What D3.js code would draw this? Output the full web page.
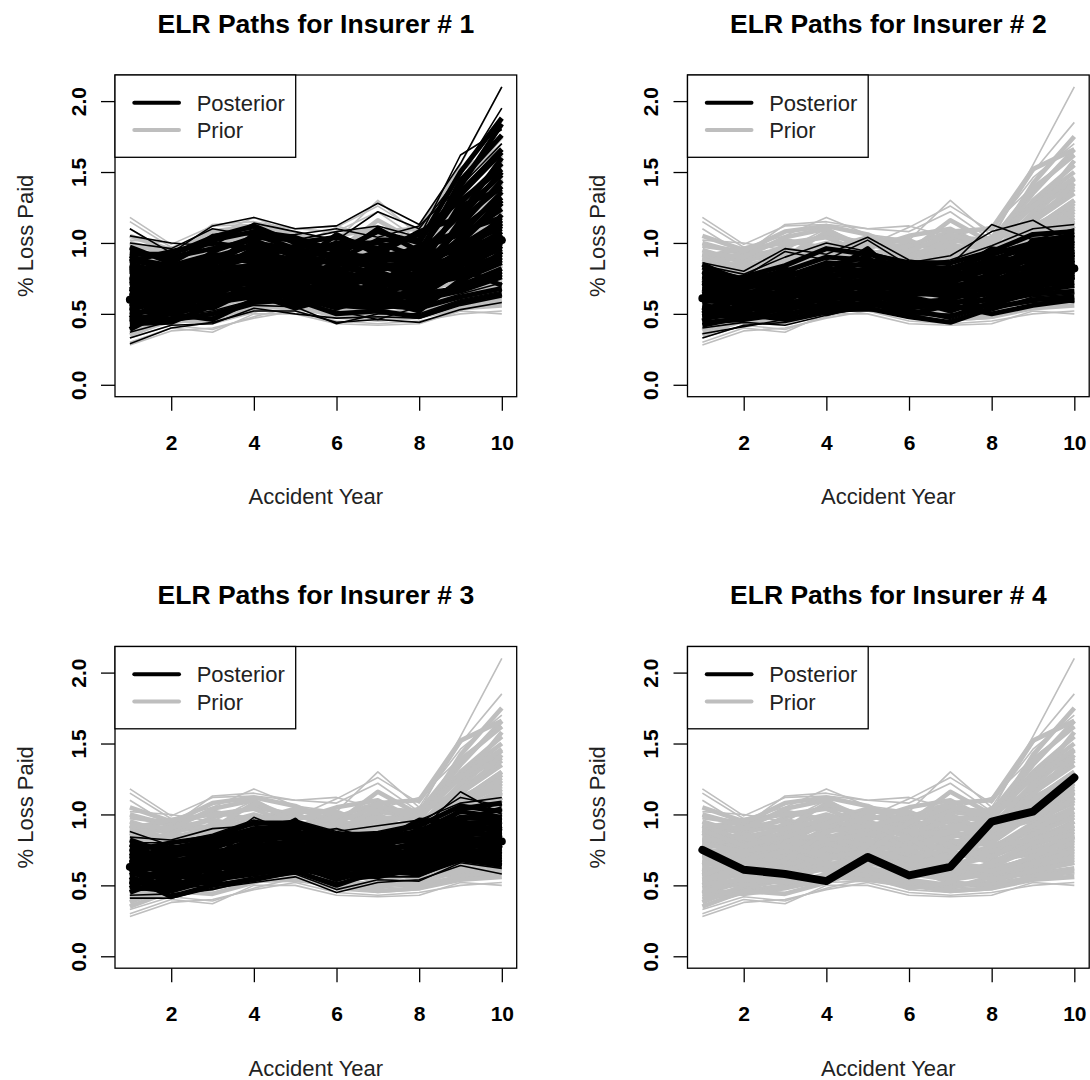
<!DOCTYPE html>
<html>
<head>
<meta charset="utf-8">
<script src="https://cdn.jsdelivr.net/npm/d3@7"></script>
<style>
  body { margin: 0; background: #fff; }
  svg { display: block; font-family: "Liberation Sans", Arial, sans-serif; }
</style>
</head>
<body>
<script>
// accident years on the x axis
var years = [1, 2, 3, 4, 5, 6, 7, 8, 9, 10];
var xTicks = [2, 4, 6, 8, 10];
var yTicks = [0, 0.5, 1, 1.5, 2];
var yTickLabels = ["0.0", "0.5", "1.0", "1.5", "2.0"];
var panelTitles = ["ELR Paths for Insurer # 1", "ELR Paths for Insurer # 2",
                   "ELR Paths for Insurer # 3", "ELR Paths for Insurer # 4"];
var legendLabels = ["Posterior", "Prior"];

// prior ELR paths (same draws in every panel), outer ones first
var priorPaths = [
  [1.18, 0.99, 1.12, 1.13, 1.10, 1.12, 1.04, 1.12, 1.40, 1.62],
  [1.15, 0.97, 1.05, 1.18, 1.06, 1.02, 1.30, 1.05, 1.50, 1.85],
  [1.10, 0.92, 1.13, 1.15, 1.10, 1.08, 1.22, 1.02, 1.55, 2.10],
  [1.02, 1.00, 0.95, 1.10, 0.98, 1.11, 1.26, 1.08, 1.46, 1.70],
  [0.28, 0.38, 0.40, 0.47, 0.52, 0.45, 0.43, 0.45, 0.50, 0.52],
  [0.30, 0.40, 0.37, 0.50, 0.50, 0.43, 0.42, 0.43, 0.52, 0.50],
  [0.33, 0.42, 0.39, 0.48, 0.55, 0.47, 0.45, 0.47, 0.55, 0.58],
  [0.36, 0.44, 0.45, 0.52, 0.53, 0.50, 0.48, 0.50, 0.60, 0.65],
  [0.45, 0.52, 0.60, 0.66, 0.62, 0.58, 0.55, 0.60, 0.70, 0.78],
  [0.52, 0.58, 0.55, 0.62, 0.70, 0.66, 0.61, 0.58, 0.66, 0.72],
  [0.58, 0.63, 0.68, 0.72, 0.69, 0.62, 0.64, 0.70, 0.82, 0.95],
  [0.62, 0.60, 0.72, 0.80, 0.75, 0.70, 0.74, 0.66, 0.78, 0.88],
  [0.66, 0.70, 0.65, 0.76, 0.82, 0.78, 0.70, 0.74, 0.92, 1.05],
  [0.70, 0.74, 0.80, 0.85, 0.78, 0.82, 0.86, 0.80, 1.00, 1.15],
  [0.74, 0.68, 0.76, 0.90, 0.86, 0.75, 0.80, 0.85, 1.10, 1.30],
  [0.78, 0.80, 0.84, 0.82, 0.90, 0.88, 0.78, 0.92, 1.20, 1.45],
  [0.82, 0.76, 0.88, 0.95, 0.84, 0.92, 0.95, 0.88, 0.96, 1.08],
  [0.86, 0.84, 0.78, 0.88, 0.95, 0.86, 0.90, 0.96, 1.30, 1.55],
  [0.90, 0.88, 0.92, 1.00, 0.92, 0.96, 0.88, 0.82, 1.05, 1.22],
  [0.95, 0.86, 0.98, 1.05, 1.00, 0.90, 1.02, 0.98, 1.35, 1.66],
  [1.00, 0.92, 1.02, 0.96, 1.04, 1.00, 0.94, 1.04, 1.25, 1.40],
  [1.05, 0.95, 0.90, 1.08, 0.96, 1.05, 1.10, 0.95, 1.42, 1.75],
  [0.40, 0.46, 0.50, 0.58, 0.60, 0.54, 0.50, 0.52, 0.62, 0.68],
  [0.48, 0.55, 0.62, 0.70, 0.66, 0.60, 0.58, 0.64, 0.75, 0.85],
  [0.55, 0.50, 0.58, 0.64, 0.72, 0.68, 0.66, 0.55, 0.64, 0.70],
  [0.60, 0.66, 0.70, 0.68, 0.74, 0.72, 0.68, 0.78, 0.88, 1.00],
  [0.64, 0.72, 0.78, 0.74, 0.66, 0.64, 0.72, 0.70, 0.85, 0.92],
  [0.68, 0.62, 0.74, 0.82, 0.80, 0.76, 0.62, 0.76, 0.80, 0.95],
  [0.72, 0.78, 0.70, 0.78, 0.88, 0.80, 0.76, 0.82, 1.02, 1.18],
  [0.76, 0.70, 0.82, 0.86, 0.76, 0.84, 0.82, 0.72, 0.90, 1.02],
  [0.80, 0.82, 0.86, 0.92, 0.82, 0.70, 0.80, 0.86, 1.12, 1.26],
  [0.84, 0.78, 0.74, 0.84, 0.90, 0.94, 0.84, 0.90, 0.98, 1.12],
  [0.88, 0.90, 0.96, 0.90, 0.88, 0.80, 0.92, 0.94, 1.15, 1.35],
  [0.92, 0.82, 0.86, 0.98, 0.98, 0.98, 1.00, 0.86, 1.08, 1.20],
  [0.50, 0.60, 0.66, 0.60, 0.64, 0.70, 0.74, 0.68, 0.72, 0.82],
  [0.56, 0.64, 0.56, 0.66, 0.58, 0.56, 0.60, 0.62, 0.68, 0.76],
  [0.63, 0.56, 0.64, 0.72, 0.68, 0.74, 0.56, 0.66, 0.74, 0.80],
  [0.69, 0.76, 0.82, 0.78, 0.72, 0.66, 0.70, 0.76, 0.94, 1.10],
  [0.75, 0.66, 0.72, 0.76, 0.84, 0.90, 0.78, 0.70, 0.86, 0.98],
  [0.81, 0.86, 0.80, 0.94, 0.80, 0.78, 0.86, 0.84, 1.04, 1.24],
  [0.87, 0.74, 0.94, 0.88, 0.94, 0.86, 0.96, 1.00, 1.18, 1.38],
  [0.42, 0.48, 0.54, 0.56, 0.56, 0.52, 0.48, 0.56, 0.58, 0.62],
  [0.47, 0.44, 0.48, 0.54, 0.58, 0.62, 0.52, 0.50, 0.56, 0.60],
  [0.98, 0.94, 1.08, 1.12, 1.06, 0.94, 1.16, 1.00, 1.28, 1.50],
  [0.90, 0.96, 1.00, 1.04, 0.92, 0.98, 1.08, 1.10, 1.52, 1.66],
  [0.44, 0.56, 0.64, 0.76, 0.70, 0.64, 0.66, 0.62, 0.78, 0.90],
  [0.54, 0.62, 0.76, 0.84, 0.78, 0.74, 0.70, 0.74, 0.92, 1.12],
  [0.59, 0.70, 0.60, 0.70, 0.76, 0.68, 0.76, 0.80, 1.06, 1.28],
  [0.65, 0.64, 0.84, 0.92, 0.86, 0.82, 0.74, 0.88, 1.14, 1.42],
  [0.71, 0.72, 0.66, 0.80, 0.70, 0.86, 0.88, 0.78, 0.82, 0.92],
  [0.77, 0.84, 0.90, 0.96, 0.90, 0.76, 0.84, 0.92, 1.22, 1.58],
  [0.83, 0.80, 0.70, 0.82, 0.86, 0.92, 0.98, 0.96, 1.02, 1.16],
  [0.89, 0.78, 0.84, 0.94, 1.02, 1.02, 0.90, 0.90, 1.10, 1.30],
  [0.93, 0.90, 1.04, 1.10, 0.94, 0.88, 1.04, 1.02, 1.38, 1.62],
  [0.38, 0.50, 0.56, 0.62, 0.68, 0.58, 0.54, 0.58, 0.66, 0.74],
  [0.35, 0.46, 0.44, 0.52, 0.62, 0.56, 0.62, 0.54, 0.60, 0.66],
  [0.51, 0.54, 0.52, 0.56, 0.54, 0.50, 0.46, 0.48, 0.54, 0.56],
  [0.57, 0.68, 0.74, 0.64, 0.60, 0.48, 0.52, 0.66, 0.80, 0.86],
  [0.67, 0.58, 0.68, 0.88, 0.92, 0.84, 0.64, 0.60, 0.70, 0.84],
  [0.79, 0.74, 0.78, 0.70, 0.74, 0.94, 1.06, 0.98, 1.26, 1.46]
];

// posterior ELR paths, insurer 1
var postPaths1 = [
  [1.10, 0.93, 1.12, 1.18, 1.10, 1.12, 1.28, 1.13, 1.56, 2.10],
  [1.05, 1.00, 0.98, 1.14, 1.08, 1.02, 1.22, 1.10, 1.48, 1.95],
  [0.95, 0.88, 1.06, 1.10, 1.02, 1.08, 1.12, 1.04, 1.62, 1.80],
  [1.00, 0.96, 1.10, 1.05, 1.06, 1.10, 1.04, 1.12, 1.40, 1.70],
  [0.29, 0.40, 0.44, 0.52, 0.52, 0.44, 0.46, 0.44, 0.53, 0.58],
  [0.33, 0.42, 0.43, 0.54, 0.50, 0.47, 0.48, 0.47, 0.56, 0.62],
  [0.37, 0.45, 0.48, 0.56, 0.55, 0.43, 0.50, 0.50, 0.60, 0.66],
  [0.41, 0.48, 0.52, 0.60, 0.58, 0.52, 0.46, 0.55, 0.64, 0.72],
  [0.45, 0.52, 0.58, 0.64, 0.62, 0.56, 0.54, 0.58, 0.70, 0.80],
  [0.49, 0.56, 0.54, 0.68, 0.66, 0.62, 0.60, 0.52, 0.74, 0.86],
  [0.53, 0.60, 0.64, 0.62, 0.70, 0.66, 0.64, 0.62, 0.80, 0.92],
  [0.57, 0.54, 0.68, 0.72, 0.64, 0.70, 0.58, 0.68, 0.86, 1.00],
  [0.61, 0.66, 0.62, 0.76, 0.74, 0.60, 0.70, 0.72, 0.92, 1.08],
  [0.65, 0.70, 0.74, 0.70, 0.78, 0.76, 0.74, 0.64, 0.98, 1.16],
  [0.69, 0.64, 0.78, 0.82, 0.72, 0.80, 0.68, 0.78, 1.04, 1.24],
  [0.73, 0.76, 0.70, 0.86, 0.84, 0.72, 0.82, 0.82, 1.10, 1.32],
  [0.77, 0.72, 0.84, 0.78, 0.88, 0.86, 0.78, 0.74, 1.16, 1.40],
  [0.81, 0.80, 0.88, 0.92, 0.80, 0.90, 0.88, 0.88, 1.22, 1.48],
  [0.85, 0.78, 0.80, 0.96, 0.94, 0.84, 0.94, 0.80, 1.28, 1.56],
  [0.89, 0.84, 0.92, 0.88, 0.98, 0.96, 0.86, 0.94, 1.34, 1.64],
  [0.93, 0.90, 0.96, 1.02, 0.90, 1.00, 1.00, 0.90, 1.44, 1.76],
  [0.97, 0.86, 1.02, 1.08, 1.04, 0.94, 1.08, 1.00, 1.50, 1.88],
  [0.48, 0.46, 0.50, 0.58, 0.60, 0.50, 0.52, 0.48, 0.58, 0.64],
  [0.56, 0.58, 0.60, 0.66, 0.56, 0.64, 0.56, 0.60, 0.66, 0.76],
  [0.64, 0.62, 0.66, 0.74, 0.68, 0.58, 0.66, 0.70, 0.76, 0.88],
  [0.72, 0.68, 0.76, 0.80, 0.76, 0.68, 0.76, 0.66, 0.84, 0.96],
  [0.80, 0.74, 0.82, 0.84, 0.82, 0.78, 0.72, 0.84, 0.90, 1.04],
  [0.88, 0.82, 0.86, 0.90, 0.86, 0.88, 0.84, 0.86, 0.96, 1.12],
  [0.60, 0.50, 0.56, 0.70, 0.62, 0.54, 0.62, 0.56, 0.72, 0.94],
  [0.68, 0.56, 0.72, 0.66, 0.66, 0.74, 0.64, 0.76, 0.82, 0.70],
  [0.76, 0.66, 0.80, 0.74, 0.80, 0.82, 0.80, 0.70, 0.88, 1.20],
  [0.84, 0.76, 0.90, 0.98, 0.92, 0.92, 0.90, 0.96, 1.06, 1.36],
  [0.92, 0.92, 1.04, 1.12, 1.00, 1.04, 0.96, 1.06, 1.30, 1.52],
  [0.52, 0.64, 0.70, 0.64, 0.54, 0.62, 0.58, 0.64, 0.68, 0.78],
  [0.44, 0.50, 0.46, 0.60, 0.64, 0.58, 0.56, 0.54, 0.62, 0.68],
  [0.62, 0.74, 0.64, 0.80, 0.70, 0.66, 0.70, 0.80, 1.00, 1.28],
  [0.39, 0.54, 0.62, 0.66, 0.74, 0.70, 0.62, 0.66, 0.78, 0.90],
  [0.43, 0.44, 0.56, 0.70, 0.68, 0.60, 0.68, 0.60, 0.70, 0.82],
  [0.47, 0.62, 0.58, 0.62, 0.72, 0.76, 0.72, 0.72, 0.86, 1.06],
  [0.51, 0.52, 0.66, 0.78, 0.66, 0.66, 0.60, 0.78, 0.94, 1.14],
  [0.55, 0.66, 0.74, 0.84, 0.78, 0.72, 0.78, 0.70, 0.80, 0.98],
  [0.59, 0.60, 0.70, 0.66, 0.86, 0.80, 0.74, 0.84, 1.02, 1.30],
  [0.63, 0.70, 0.82, 0.90, 0.74, 0.86, 0.84, 0.76, 1.12, 1.44],
  [0.67, 0.76, 0.68, 0.80, 0.90, 0.78, 0.92, 0.90, 1.00, 1.10],
  [0.71, 0.82, 0.92, 0.86, 0.82, 0.94, 0.70, 0.92, 1.20, 1.60],
  [0.75, 0.70, 0.86, 1.00, 0.96, 0.70, 0.86, 0.98, 1.08, 1.18],
  [0.79, 0.86, 0.78, 0.94, 0.88, 0.98, 0.96, 0.82, 1.26, 1.38],
  [0.83, 0.72, 0.94, 1.04, 1.02, 0.88, 1.02, 1.02, 1.36, 1.66],
  [0.87, 0.94, 1.00, 0.96, 0.84, 1.06, 0.92, 1.08, 1.18, 1.50],
  [0.91, 0.80, 0.84, 1.06, 0.96, 0.90, 1.10, 0.94, 1.40, 1.84]
];

// posterior ELR paths, insurer 2
var postPaths2 = [
  [0.86, 0.80, 0.96, 0.92, 1.04, 0.88, 0.84, 1.13, 1.02, 1.10],
  [0.84, 0.78, 0.90, 1.00, 0.94, 0.86, 0.91, 1.08, 1.16, 1.00],
  [0.82, 0.76, 0.94, 0.88, 1.02, 0.84, 0.88, 0.98, 1.10, 1.13],
  [0.33, 0.42, 0.44, 0.50, 0.54, 0.50, 0.44, 0.54, 0.58, 0.60],
  [0.36, 0.41, 0.46, 0.52, 0.52, 0.53, 0.46, 0.56, 0.60, 0.58],
  [0.40, 0.44, 0.42, 0.49, 0.55, 0.49, 0.50, 0.52, 0.62, 0.64],
  [0.44, 0.46, 0.50, 0.54, 0.58, 0.52, 0.48, 0.58, 0.64, 0.66],
  [0.47, 0.50, 0.48, 0.58, 0.56, 0.56, 0.54, 0.56, 0.66, 0.70],
  [0.50, 0.48, 0.54, 0.56, 0.62, 0.60, 0.52, 0.62, 0.70, 0.72],
  [0.53, 0.54, 0.52, 0.62, 0.60, 0.54, 0.58, 0.60, 0.68, 0.76],
  [0.56, 0.52, 0.58, 0.60, 0.66, 0.62, 0.56, 0.66, 0.74, 0.78],
  [0.59, 0.58, 0.56, 0.66, 0.64, 0.66, 0.62, 0.64, 0.72, 0.82],
  [0.62, 0.56, 0.62, 0.64, 0.70, 0.58, 0.60, 0.70, 0.78, 0.80],
  [0.65, 0.62, 0.60, 0.70, 0.68, 0.68, 0.66, 0.68, 0.82, 0.86],
  [0.68, 0.60, 0.66, 0.68, 0.74, 0.64, 0.64, 0.74, 0.80, 0.84],
  [0.71, 0.66, 0.64, 0.74, 0.72, 0.72, 0.70, 0.72, 0.86, 0.90],
  [0.74, 0.64, 0.70, 0.72, 0.78, 0.70, 0.68, 0.78, 0.84, 0.88],
  [0.77, 0.70, 0.68, 0.78, 0.76, 0.76, 0.74, 0.76, 0.90, 0.94],
  [0.80, 0.68, 0.74, 0.76, 0.82, 0.74, 0.72, 0.82, 0.88, 0.92],
  [0.83, 0.74, 0.72, 0.82, 0.80, 0.80, 0.78, 0.80, 0.94, 0.98],
  [0.85, 0.72, 0.78, 0.80, 0.86, 0.78, 0.76, 0.86, 0.92, 0.96],
  [0.60, 0.70, 0.76, 0.86, 0.84, 0.82, 0.80, 0.88, 0.98, 1.02],
  [0.64, 0.74, 0.80, 0.90, 0.88, 0.84, 0.82, 0.92, 1.00, 1.06],
  [0.70, 0.76, 0.84, 0.96, 0.92, 0.86, 0.86, 0.94, 1.06, 1.08],
  [0.55, 0.50, 0.46, 0.52, 0.54, 0.48, 0.44, 0.54, 0.60, 0.62],
  [0.48, 0.56, 0.60, 0.50, 0.58, 0.50, 0.56, 0.50, 0.56, 0.60],
  [0.45, 0.58, 0.64, 0.66, 0.72, 0.70, 0.64, 0.70, 0.80, 0.88],
  [0.52, 0.64, 0.70, 0.74, 0.66, 0.76, 0.70, 0.66, 0.76, 0.86],
  [0.58, 0.66, 0.58, 0.76, 0.80, 0.66, 0.76, 0.84, 0.90, 0.94],
  [0.63, 0.50, 0.68, 0.82, 0.76, 0.72, 0.60, 0.80, 0.96, 1.00],
  [0.67, 0.72, 0.72, 0.60, 0.64, 0.80, 0.82, 0.62, 0.74, 0.80],
  [0.72, 0.62, 0.76, 0.84, 0.90, 0.62, 0.74, 0.90, 0.86, 0.92],
  [0.76, 0.68, 0.82, 0.70, 0.74, 0.82, 0.66, 0.74, 1.02, 1.04],
  [0.79, 0.74, 0.66, 0.78, 0.96, 0.70, 0.78, 0.96, 0.92, 0.90],
  [0.50, 0.62, 0.54, 0.64, 0.60, 0.64, 0.72, 0.64, 0.84, 0.74],
  [0.42, 0.48, 0.56, 0.60, 0.64, 0.56, 0.58, 0.60, 0.70, 0.78]
];

// posterior ELR paths, insurer 3
var postPaths3 = [
  [0.88, 0.78, 0.76, 0.98, 0.86, 0.90, 0.82, 0.88, 1.16, 1.00],
  [0.84, 0.82, 0.90, 0.92, 0.96, 0.88, 0.92, 0.96, 1.08, 1.12],
  [0.80, 0.80, 0.86, 0.96, 0.90, 0.86, 0.88, 0.94, 1.12, 1.06],
  [0.41, 0.41, 0.48, 0.52, 0.56, 0.45, 0.52, 0.54, 0.64, 0.58],
  [0.43, 0.44, 0.47, 0.54, 0.58, 0.47, 0.54, 0.53, 0.66, 0.62],
  [0.46, 0.48, 0.50, 0.56, 0.60, 0.52, 0.56, 0.56, 0.68, 0.64],
  [0.49, 0.46, 0.54, 0.58, 0.62, 0.56, 0.58, 0.60, 0.70, 0.68],
  [0.52, 0.52, 0.52, 0.62, 0.64, 0.58, 0.56, 0.62, 0.72, 0.70],
  [0.55, 0.50, 0.58, 0.60, 0.66, 0.62, 0.60, 0.64, 0.74, 0.74],
  [0.58, 0.56, 0.56, 0.66, 0.68, 0.60, 0.64, 0.66, 0.76, 0.72],
  [0.61, 0.54, 0.62, 0.64, 0.70, 0.66, 0.62, 0.68, 0.78, 0.78],
  [0.64, 0.60, 0.60, 0.70, 0.72, 0.64, 0.68, 0.70, 0.80, 0.76],
  [0.67, 0.58, 0.66, 0.68, 0.74, 0.70, 0.66, 0.72, 0.82, 0.82],
  [0.70, 0.64, 0.64, 0.74, 0.76, 0.68, 0.72, 0.74, 0.84, 0.80],
  [0.73, 0.62, 0.70, 0.72, 0.78, 0.74, 0.70, 0.76, 0.86, 0.86],
  [0.76, 0.68, 0.68, 0.78, 0.80, 0.72, 0.76, 0.78, 0.88, 0.84],
  [0.79, 0.66, 0.74, 0.76, 0.82, 0.78, 0.74, 0.80, 0.90, 0.90],
  [0.82, 0.72, 0.72, 0.82, 0.84, 0.76, 0.80, 0.82, 0.92, 0.88],
  [0.62, 0.70, 0.78, 0.84, 0.86, 0.80, 0.78, 0.84, 0.94, 0.94],
  [0.66, 0.74, 0.80, 0.88, 0.88, 0.82, 0.82, 0.86, 0.98, 0.96],
  [0.70, 0.76, 0.82, 0.90, 0.92, 0.84, 0.84, 0.88, 1.02, 0.98],
  [0.74, 0.80, 0.84, 0.94, 0.94, 0.86, 0.86, 0.92, 1.06, 1.02],
  [0.56, 0.42, 0.50, 0.54, 0.60, 0.50, 0.60, 0.58, 0.70, 0.66],
  [0.50, 0.60, 0.64, 0.58, 0.64, 0.54, 0.62, 0.58, 0.68, 0.64],
  [0.60, 0.66, 0.72, 0.80, 0.74, 0.76, 0.70, 0.82, 0.96, 1.04],
  [0.68, 0.58, 0.62, 0.72, 0.70, 0.62, 0.64, 0.78, 0.86, 0.92],
  [0.45, 0.56, 0.62, 0.66, 0.70, 0.66, 0.64, 0.70, 0.78, 0.86],
  [0.51, 0.64, 0.70, 0.74, 0.66, 0.74, 0.72, 0.66, 0.82, 0.84],
  [0.57, 0.68, 0.58, 0.78, 0.80, 0.64, 0.78, 0.86, 0.92, 0.90],
  [0.62, 0.52, 0.68, 0.84, 0.76, 0.72, 0.60, 0.80, 0.98, 0.96],
  [0.66, 0.72, 0.74, 0.62, 0.66, 0.80, 0.82, 0.64, 0.76, 0.82],
  [0.71, 0.62, 0.76, 0.86, 0.90, 0.62, 0.74, 0.90, 0.88, 0.92],
  [0.75, 0.70, 0.84, 0.70, 0.72, 0.82, 0.66, 0.76, 1.04, 1.08],
  [0.78, 0.76, 0.66, 0.80, 0.96, 0.70, 0.80, 0.96, 0.94, 0.88],
  [0.48, 0.62, 0.54, 0.64, 0.62, 0.66, 0.74, 0.66, 0.86, 0.76],
  [0.53, 0.48, 0.56, 0.62, 0.68, 0.58, 0.58, 0.62, 0.72, 0.78]
];

// insurer 4 has a single posterior path (drawn as the thick line)
var postPaths4 = [];

// thick posterior line for each insurer
var postMean1 = [0.60, 0.62, 0.70, 0.78, 0.76, 0.74, 0.76, 0.75, 0.92, 1.02];
var postMean2 = [0.61, 0.60, 0.64, 0.70, 0.72, 0.68, 0.66, 0.72, 0.78, 0.82];
var postMean3 = [0.63, 0.62, 0.66, 0.72, 0.74, 0.70, 0.68, 0.72, 0.80, 0.81];
var postMean4 = [0.75, 0.61, 0.58, 0.53, 0.70, 0.57, 0.63, 0.95, 1.02, 1.26];

var posteriors = [postPaths1, postPaths2, postPaths3, postPaths4];
var means = [postMean1, postMean2, postMean3, postMean4];

// how many of the leading paths trace the outer edge (drawn thin)
var priorEdgeCount = 8;
var postEdgeCount = [8, 6, 6, 0];

// layout (R style 2x2 par(mfrow))
var cellW = 572.5, cellH = 571.5;
var boxLeft = 115, boxTop = 75, boxW = 401.7, boxH = 321.7;
var grey = "#bebebe";

var svg = d3.select("body")
    .append("svg")
    .attr("width", 1090)
    .attr("height", 1080);

var xScale = d3.scaleLinear()
    .domain([0.64, 10.36])
    .range([0, boxW]);

var yScale = d3.scaleLinear()
    .domain([-0.084, 2.184])
    .range([boxH, 0]);

var line = d3.line()
    .x(function(d, i) { return xScale(years[i]); })
    .y(function(d) { return yScale(d); });

panelTitles.forEach(function(title, p) {
    var col = p % 2, row = Math.floor(p / 2);
    var g = svg.append("g")
        .attr("transform", "translate(" + (col * cellW + boxLeft) + "," + (row * cellH + boxTop) + ")");

    // prior paths first, grey (inner draws drawn wider so the cloud reads solid)
    g.append("g").selectAll("path")
        .data(priorPaths)
        .enter()
        .append("path")
        .attr("d", line)
        .attr("fill", "none")
        .attr("stroke", grey)
        .attr("stroke-linejoin", "round")
        .attr("stroke-width", function(d, i) { return i < priorEdgeCount ? 1.6 : 4.6; });

    // thick posterior line, mostly buried under the draws
    g.append("path")
        .datum(means[p])
        .attr("d", line)
        .attr("fill", "none")
        .attr("stroke", "#000")
        .attr("stroke-width", 8)
        .attr("stroke-linecap", "round")
        .attr("stroke-linejoin", "round");

    // posterior draws, black
    g.append("g").selectAll("path")
        .data(posteriors[p])
        .enter()
        .append("path")
        .attr("d", line)
        .attr("fill", "none")
        .attr("stroke", "#000")
        .attr("stroke-linejoin", "round")
        .attr("stroke-width", function(d, i) { return i < postEdgeCount[p] ? 1.6 : 5; });

    // x axis
    var xAxis = d3.axisBottom(xScale)
        .tickValues(xTicks)
        .tickSize(14)
        .tickSizeOuter(0)
        .tickPadding(24)
        .tickFormat(d3.format("d"));
    var gx = g.append("g")
        .attr("transform", "translate(0," + boxH + ")")
        .call(xAxis);
    gx.select(".domain").remove();
    gx.selectAll("line").attr("stroke", "#000").attr("stroke-width", 1.3);
    gx.selectAll("text")
        .attr("fill", "#000")
        .style("font-size", "21px")
        .style("font-weight", "bold");

    // y axis, labels turned parallel to the axis
    var yAxis = d3.axisLeft(yScale)
        .tickValues(yTicks)
        .tickSize(14)
        .tickSizeOuter(0)
        .tickFormat(function(d, i) { return yTickLabels[i]; });
    var gy = g.append("g").call(yAxis);
    gy.select(".domain").remove();
    gy.selectAll("line").attr("stroke", "#000").attr("stroke-width", 1.3);
    gy.selectAll("text")
        .attr("x", null)
        .attr("dy", "0.36em")
        .attr("transform", "translate(-37,0) rotate(-90)")
        .attr("text-anchor", "middle")
        .attr("fill", "#000")
        .style("font-size", "21px")
        .style("font-weight", "bold");

    // box
    g.append("rect")
        .attr("width", boxW)
        .attr("height", boxH)
        .attr("fill", "none")
        .attr("stroke", "#000")
        .attr("stroke-width", 1.3);

    // titles
    g.append("text")
        .attr("x", boxW / 2)
        .attr("y", -42.3)
        .attr("text-anchor", "middle")
        .style("font-size", "26.5px")
        .style("font-weight", "bold")
        .text(title);

    g.append("text")
        .attr("x", boxW / 2)
        .attr("y", boxH + 107.3)
        .attr("text-anchor", "middle")
        .attr("fill", "#222")
        .style("font-size", "22px")
        .text("Accident Year");

    g.append("text")
        .attr("transform", "translate(-82.3," + (boxH / 2) + ") rotate(-90)")
        .attr("text-anchor", "middle")
        .attr("fill", "#222")
        .style("font-size", "22px")
        .text("% Loss Paid");

    // legend
    var lg = g.append("g");
    lg.append("rect")
        .attr("width", 180.7)
        .attr("height", 82.3)
        .attr("fill", "#fff")
        .attr("stroke", "#000")
        .attr("stroke-width", 1.3);
    lg.selectAll("line.key")
        .data(legendLabels)
        .enter()
        .append("line")
        .attr("class", "key")
        .attr("x1", 19.3)
        .attr("x2", 64)
        .attr("y1", function(d, i) { return 27.7 + i * 27.3; })
        .attr("y2", function(d, i) { return 27.7 + i * 27.3; })
        .attr("stroke", function(d, i) { return i === 0 ? "#000" : grey; })
        .attr("stroke-width", 4)
        .attr("stroke-linecap", "round");
    lg.selectAll("text.key")
        .data(legendLabels)
        .enter()
        .append("text")
        .attr("class", "key")
        .attr("x", 81.7)
        .attr("y", function(d, i) { return 35.7 + i * 27.3; })
        .attr("fill", "#222")
        .style("font-size", "22px")
        .text(function(d) { return d; });
});
</script>
</body>
</html>
